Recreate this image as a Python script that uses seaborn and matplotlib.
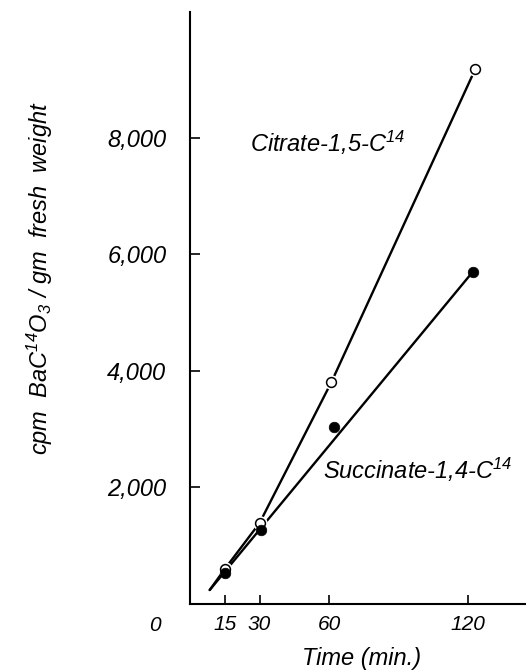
import pandas as pd
import matplotlib
matplotlib.use("Agg")
import matplotlib.pyplot as plt
import seaborn as sns

# =========================
# DATA
# =========================
time_citrate = [15, 30, 61, 123]
cpm_citrate = [600, 1390, 3810, 9180]

time_succinate = [15, 30.5, 62, 122]
cpm_succinate = [530, 1270, 3040, 5705]

# drawn curves: both start together just before 15 min
curve_citrate_t = [8.5, 15, 30, 61, 123]
curve_citrate_y = [240, 600, 1390, 3810, 9180]
curve_succinate_t = [8.5, 122]
curve_succinate_y = [240, 5705]

xticks = [15, 30, 60, 120]
yticks = [2000, 4000, 6000, 8000]
ytick_labels = ["2,000", "4,000", "6,000", "8,000"]

citrate = pd.DataFrame({"t": time_citrate, "cpm": cpm_citrate})
succinate = pd.DataFrame({"t": time_succinate, "cpm": cpm_succinate})
curve_c = pd.DataFrame({"t": curve_citrate_t, "cpm": curve_citrate_y})
curve_s = pd.DataFrame({"t": curve_succinate_t, "cpm": curve_succinate_y})

# =========================
# STYLE
# =========================
sns.set_style("ticks")
plt.rcParams["font.family"] = ["Liberation Sans", "DejaVu Sans"]
plt.rcParams["font.style"] = "italic"
plt.rcParams["mathtext.fontset"] = "custom"
plt.rcParams["mathtext.rm"] = "Liberation Sans:italic"
plt.rcParams["mathtext.it"] = "Liberation Sans:italic"
plt.rcParams["mathtext.default"] = "it"
for key in ["text.color", "axes.labelcolor", "axes.edgecolor",
            "xtick.color", "ytick.color"]:
    plt.rcParams[key] = "black"

fig = plt.figure(figsize=(5.26, 6.72), dpi=100)
ax = fig.add_axes([0.3612, 0.1012, 0.6388, 0.881])

# =========================
# LINES + POINTS
# =========================
sns.lineplot(data=curve_c, x="t", y="cpm", color="black", lw=1.7,
             sort=False, estimator=None, ax=ax, zorder=2)
sns.lineplot(data=curve_s, x="t", y="cpm", color="black", lw=1.7,
             sort=False, estimator=None, ax=ax, zorder=2)

# white halo under open circles so the line looks broken there
sns.scatterplot(data=citrate, x="t", y="cpm", s=110, color="white",
                linewidth=0, ax=ax, zorder=3)
sns.scatterplot(data=citrate, x="t", y="cpm", s=50, color="white",
                edgecolor="black", linewidth=1.1, ax=ax, zorder=4)
sns.scatterplot(data=succinate, x="t", y="cpm", s=58, color="black",
                edgecolor="black", linewidth=0.5, ax=ax, zorder=4)

# =========================
# AXES
# =========================
ax.set_xlim(0, 144.9)
ax.set_ylim(0, 10163)
sns.despine(ax=ax)
for side in ["left", "bottom"]:
    ax.spines[side].set_linewidth(1.5)

ax.set_xticks(xticks)
ax.set_xticklabels([str(v) for v in xticks], fontsize=15)
ax.set_yticks(yticks)
ax.set_yticklabels(ytick_labels, fontsize=17)
ax.tick_params(axis="y", direction="in", length=7, width=1.2, pad=17)
ax.tick_params(axis="x", direction="in", length=6.5, width=1.2, pad=8)

ax.set_xlabel("Time (min.)", fontsize=17)
ax.xaxis.set_label_coords(0.512, -0.072)
ax.set_ylabel("cpm  BaC$^{14}$O$_3$ / gm  fresh  weight", fontsize=17,
              va="center")
ax.yaxis.set_label_coords(-0.446, 0.551)

ax.text(-0.104, -0.036, "0", transform=ax.transAxes, fontsize=15,
        ha="center", va="center")

ax.text(25.9, 7765, "Citrate-1,5-C$^{14}$", fontsize=17, ha="left",
        va="baseline")
ax.text(57.4, 2146, "Succinate-1,4-C$^{14}$", fontsize=17, ha="left",
        va="baseline")

plt.savefig("out.png", dpi=100)
